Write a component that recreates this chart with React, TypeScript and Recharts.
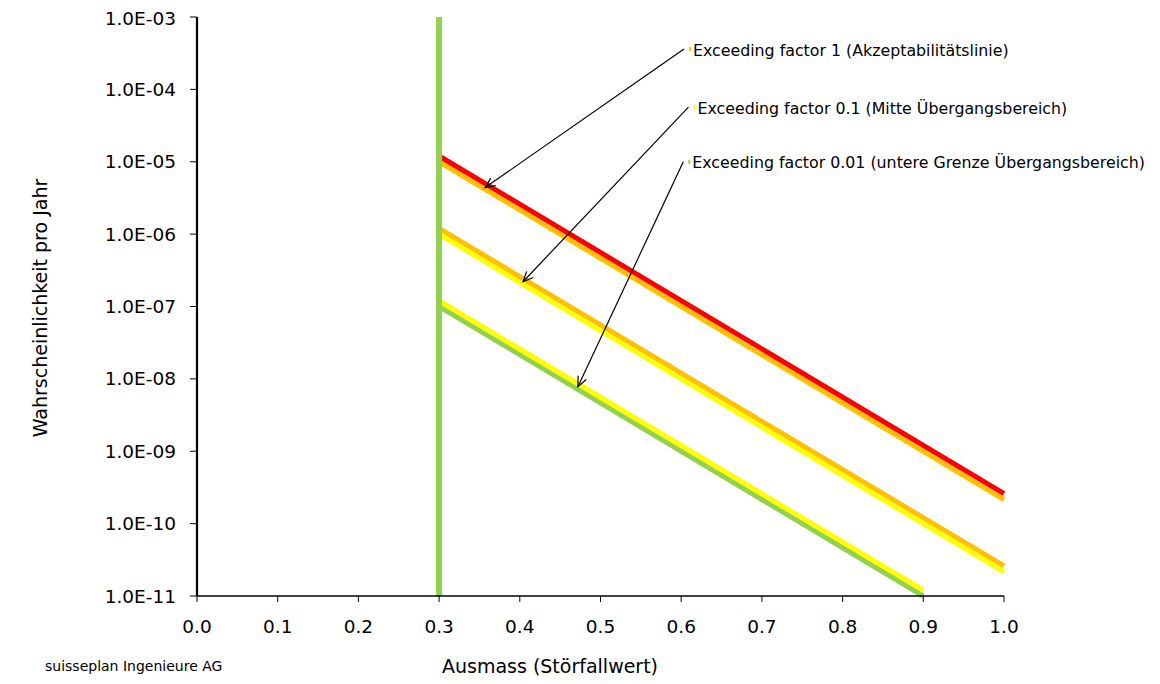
import React from "react";
import { LineChart, Line, XAxis, YAxis, ReferenceLine } from "recharts";

// x positions of the risk lines (Ausmass)
const lineX = [0.3, 1.0];
const lowLineX = [0.3, 0.9];
const borderX = [0.3, 0.3];

// probabilities per year at those x positions
const redY = [1.2e-5, 2.6e-10];
const orangeHighY = [1.0e-5, 2.15e-10];
const orangeMidY = [1.2e-6, 2.6e-11];
const yellowMidY = [1.0e-6, 2.15e-11];
const yellowLowY = [1.2e-7, 1.2e-11];
const greenLowY = [1.0e-7, 1.0e-11];
const borderY = [1.0e-11, 1.0e-3];

const xTicks = [0, 0.1, 0.2, 0.3, 0.4, 0.5, 0.6, 0.7, 0.8, 0.9, 1.0];
const yTicks = [1e-11, 1e-10, 1e-9, 1e-8, 1e-7, 1e-6, 1e-5, 1e-4, 1e-3];

// annotation arrows
const noteLabels = [
  "Exceeding factor 1  (Akzeptabilitätslinie)",
  "Exceeding factor 0.1  (Mitte Übergangsbereich)",
  "Exceeding factor 0.01  (untere Grenze Übergangsbereich)",
];
const noteFromX = [0.6035, 0.609, 0.6026];
const noteFromY = [3.6e-4, 5.7e-5, 1.0e-5];
const noteToX = [0.357, 0.404, 0.472];
const noteToY = [4.4e-6, 2.2e-7, 7.8e-9];

const RED = "#ff0000";
const ORANGE = "#ffc000";
const YELLOW = "#ffff00";
const GREEN = "#92d050";
const noteColors = [ORANGE, YELLOW, GREEN];

const FONT = "'DejaVu Sans', Verdana, sans-serif";

const toPoints = (xs: number[], ys: number[]) => xs.map((x, i) => ({ x, y: ys[i] }));

const series = [
  { key: "orangeHigh", data: toPoints(lineX, orangeHighY), color: ORANGE },
  { key: "red", data: toPoints(lineX, redY), color: RED },
  { key: "yellowMid", data: toPoints(lineX, yellowMidY), color: YELLOW },
  { key: "orangeMid", data: toPoints(lineX, orangeMidY), color: ORANGE },
  { key: "greenLow", data: toPoints(lowLineX, greenLowY), color: GREEN },
  { key: "yellowLow", data: toPoints(lowLineX, yellowLowY), color: YELLOW },
  { key: "border", data: toPoints(borderX, borderY), color: GREEN },
];

const formatExp = (v: number) => {
  const e = Math.round(Math.log10(v));
  const sign = e < 0 ? "-" : "+";
  return `1.0E${sign}${String(Math.abs(e)).padStart(2, "0")}`;
};

type ArrowProps = {
  x1?: number;
  y1?: number;
  x2?: number;
  y2?: number;
  label: string;
  color: string;
};

// arrow from the label towards the line, open head like the Excel original
const NoteArrow = ({ x1 = 0, y1 = 0, x2 = 0, y2 = 0, label, color }: ArrowProps) => {
  const ang = Math.atan2(y2 - y1, x2 - x1);
  const len = 11;
  const spread = 0.42;
  const h1 = `${x2 - len * Math.cos(ang - spread)},${y2 - len * Math.sin(ang - spread)}`;
  const h2 = `${x2 - len * Math.cos(ang + spread)},${y2 - len * Math.sin(ang + spread)}`;
  return (
    <g>
      <line x1={x1} y1={y1} x2={x2} y2={y2} stroke="#000" strokeWidth={1.2} />
      <polyline points={`${h1} ${x2},${y2} ${h2}`} fill="none" stroke="#000" strokeWidth={1.2} />
      <rect x={x1 + 5} y={y1 - 2} width={2} height={4} fill={color} />
      <text x={x1 + 9} y={y1 + 1} dy="0.35em" fontSize={15.8} fontFamily={FONT} fill="#000">
        {label}
      </text>
    </g>
  );
};

export default function App() {
  return (
    <div style={{ position: "relative", width: 1150, height: 668, fontFamily: FONT }}>
      <LineChart
        width={1150}
        height={668}
        margin={{ top: 9, right: 154, left: 0, bottom: 0 }}
      >
        <XAxis
          dataKey="x"
          type="number"
          domain={[0, 1]}
          ticks={xTicks}
          tickFormatter={(v: number) => v.toFixed(1)}
          height={80}
          tickSize={6}
          tickMargin={18}
          stroke="#000"
          tick={{ fill: "#000", fontSize: 18.5, fontFamily: FONT }}
          axisLine={{ stroke: "#000", strokeWidth: 1.3 }}
          allowDuplicatedCategory={false}
        />
        <YAxis
          dataKey="y"
          type="number"
          scale="log"
          domain={[1e-11, 1e-3]}
          ticks={yTicks}
          tickFormatter={formatExp}
          width={189}
          tickSize={7}
          tickMargin={14}
          stroke="#000"
          tick={{ fill: "#000", fontSize: 18.5, fontFamily: FONT }}
          axisLine={{ stroke: "#000", strokeWidth: 2.2 }}
        />
        {series.map((s) => (
          <Line
            key={s.key}
            data={s.data}
            dataKey="y"
            stroke={s.color}
            strokeWidth={s.key === "border" ? 6 : 5}
            dot={false}
            activeDot={false}
            isAnimationActive={false}
          />
        ))}
        {noteLabels.map((label, i) => (
          <ReferenceLine
            key={label}
            segment={[
              { x: noteFromX[i], y: noteFromY[i] },
              { x: noteToX[i], y: noteToY[i] },
            ]}
            ifOverflow="visible"
            shape={(p: ArrowProps) => <NoteArrow {...p} label={label} color={noteColors[i]} />}
          />
        ))}
      </LineChart>
      <div
        style={{
          position: "absolute",
          left: 32,
          top: 300,
          transform: "translate(-50%, -50%) rotate(-90deg)",
          whiteSpace: "nowrap",
          fontSize: 19,
        }}
      >
        Wahrscheinlichkeit pro Jahr
      </div>
      <div
        style={{
          position: "absolute",
          left: 542,
          top: 658,
          transform: "translate(-50%, -50%)",
          whiteSpace: "nowrap",
          fontSize: 19,
        }}
      >
        Ausmass (Störfallwert)
      </div>
      <div
        style={{
          position: "absolute",
          left: 37,
          top: 658,
          transform: "translateY(-50%)",
          whiteSpace: "nowrap",
          fontSize: 14,
        }}
      >
        suisseplan Ingenieure AG
      </div>
    </div>
  );
}
